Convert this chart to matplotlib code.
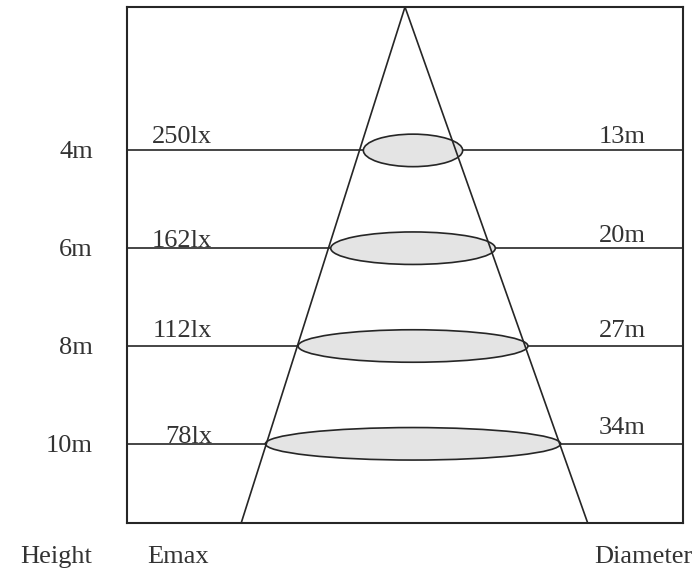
import matplotlib
matplotlib.use("Agg")
import matplotlib.pyplot as plt
from matplotlib.patches import Ellipse

# ---- data ----
heights = [4, 6, 8, 10]            # mounting height (m)
height_labels = ["4m", "6m", "8m", "10m"]
emax = [250, 162, 112, 78]         # lx
diameters = [13, 20, 27, 34]       # m
footer_labels = ["Height", "Emax", "Diameter"]

# ---- layout / style ----
W, H = 695, 571
DPI = 100
INK = "#262626"
TXT = "#333333"
FONT = "Liberation Serif"
FS = 19

fig = plt.figure(figsize=(W / DPI, H / DPI), dpi=DPI)
box_l, box_t, box_r, box_b = 127, 7, 683, 523
ax = fig.add_axes([box_l / W, 1 - box_b / H, (box_r - box_l) / W, (box_b - box_t) / H])

# x: drawing units (pixels from box left); y: height in metres (down)
px_per_m = 48.9
y0_px = 297.1  # pixel row of 7 m
def h_of_px(py):
    return 7 + (py - y0_px) / px_per_m
ax.set_xlim(0, box_r - box_l)
ax.set_ylim(h_of_px(box_b), h_of_px(box_t))

for s in ax.spines.values():
    s.set_linewidth(1.5)
    s.set_color(INK)
ax.set_xticks([])
ax.set_yticks([])

y_top, y_bot = ax.get_ylim()[1], ax.get_ylim()[0]
apex_x = 278
base_l, base_r = 114.2, 460.7
cx = 286
ell_h = 32.5 / px_per_m

# horizontal level lines
for h in heights:
    ax.plot([0, box_r - box_l], [h, h], color=INK, lw=1.2, zorder=1,
            solid_capstyle="butt")

# light-spot ellipses
for h, d in zip(heights, diameters):
    w = 9.33 * d - 22
    ax.add_patch(Ellipse((cx, h), w, ell_h, facecolor="#e4e4e4",
                         edgecolor=INK, lw=1.2, zorder=2))

# beam cone
ax.plot([base_l, apex_x, base_r], [y_bot, y_top, y_bot], color=INK, lw=1.2,
        zorder=3, clip_on=False)

# text labels
emax_dy = [7.7, 1.2, 8.7, 0.8]
diam_dy = [7.7, 6.5, 9.3, 9.8]
for i, h in enumerate(heights):
    ax.annotate(height_labels[i], (93 - box_l, h), xytext=(0, -8),
                textcoords="offset pixels", ha="right", va="baseline",
                family=FONT, fontsize=FS, color=TXT, annotation_clip=False)
    ax.annotate(f"{emax[i]}lx", (212 - box_l, h), xytext=(0, emax_dy[i]),
                textcoords="offset pixels", ha="right", va="baseline",
                family=FONT, fontsize=FS, color=TXT, annotation_clip=False)
    ax.annotate(f"{diameters[i]}m", (599 - box_l, h), xytext=(0, diam_dy[i]),
                textcoords="offset pixels", ha="left", va="baseline",
                family=FONT, fontsize=FS, color=TXT, annotation_clip=False)

base_y = 1 - 563 / H
fig.text(56 / W, base_y, footer_labels[0], ha="center", va="baseline",
         family=FONT, fontsize=FS, color=TXT)
fig.text(178 / W, base_y, footer_labels[1], ha="center", va="baseline",
         family=FONT, fontsize=FS, color=TXT)
fig.text(692 / W, base_y, footer_labels[2], ha="right", va="baseline",
         family=FONT, fontsize=FS, color=TXT)

fig.savefig("out.png", dpi=DPI, facecolor="white")
